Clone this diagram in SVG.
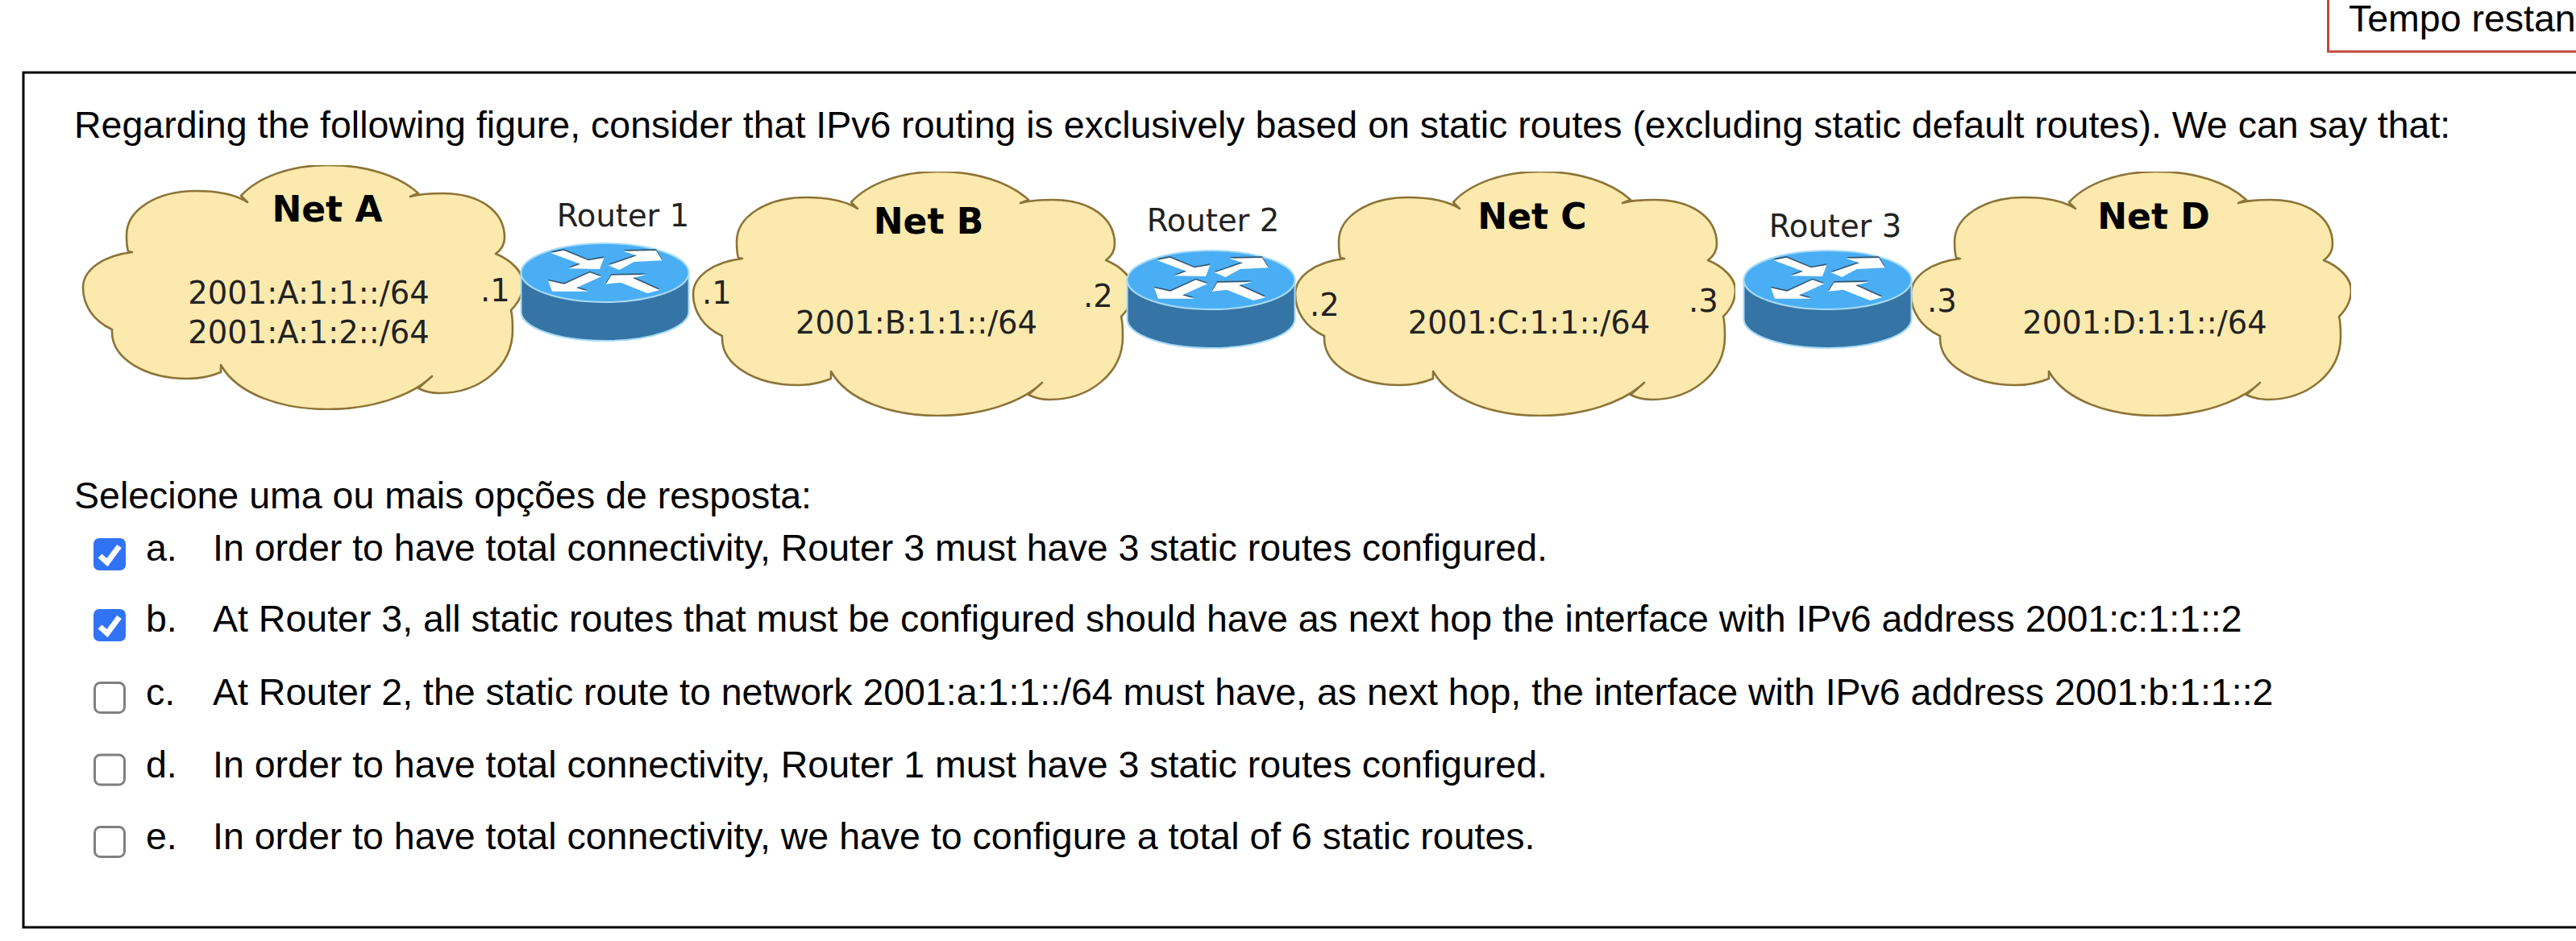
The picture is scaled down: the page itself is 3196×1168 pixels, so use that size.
<svg xmlns="http://www.w3.org/2000/svg" width="3196" height="1168" viewBox="0 0 3196 1168">
<style>
.t{font-family:"Liberation Sans",Arial,sans-serif;font-size:46.500px;fill:#000}
.d{font-family:"DejaVu Sans",sans-serif;font-size:38.500px;fill:#222}
.b{font-family:"DejaVu Sans",sans-serif;font-size:44px;font-weight:bold;fill:#000}
.m{text-anchor:middle}
.cloud{fill:#fbe9ae;stroke:#8c7336;stroke-width:2.6;stroke-linejoin:round}
.on{fill:#3273f6}
.off{fill:#fff;stroke:#808080;stroke-width:3}
.tick{fill:none;stroke:#fff;stroke-width:7}
</style>
<defs>
<clipPath id="cc"><rect x="90" y="205" width="559" height="304"/></clipPath>
<g id="cloud"><path class="cloud" clip-path="url(#cc)" d="M299,243C320,220 360,205 407,205C455,205 495,218 519,240L509,244C520,241 535,240 549,240C595,240 626,262 626,295C626,303 622,310 615,315C635,323 649,338 649,352C649,365 643,376 634,385C636,392 636,400 636,410C636,455 595,488 545,488C535,488 527,486 519,482L536,467C510,492 460,508 407,508C350,508 295,490 274,453L274,462C262,467 248,470 233,470C180,470 139,445 139,412L139,409C115,398 103,378 103,357C103,335 128,317 164,313L159,312C157,305 157,300 157,292C157,260 195,237 243,237C265,237 290,240 307,251Z"/></g>
<g id="router">
<path d="M646.500,338.500V387A104,36 0 0 0 854.500,387V338.500Z" fill="#3574a5" stroke="#a8dcf5" stroke-width="2"/>
<ellipse cx="750.500" cy="338.500" rx="104" ry="36.500" fill="#4aaef5" stroke="#a8dcf5" stroke-width="2"/>
<g transform="translate(620,280) scale(.3333)">
<g fill="#33536b" transform="translate(0,-5)">
<polygon points="190,102 238,92 330,130 388,120 372,162 255,160 300,143"/>
<polygon points="405,148 510,112 460,95 582,93 605,130 500,135 445,165"/>
<polygon points="180,205 240,218 335,175 378,190 285,232 330,245 195,245"/>
<polygon points="395,218 415,185 545,183 495,195 595,240 550,252 450,212"/>
</g>
<g fill="#fff">
<polygon points="190,102 238,92 330,130 388,120 372,162 255,160 300,143"/>
<polygon points="405,148 510,112 460,95 582,93 605,130 500,135 445,165"/>
<polygon points="180,205 240,218 335,175 378,190 285,232 330,245 195,245"/>
<polygon points="395,218 415,185 545,183 495,195 595,240 550,252 450,212"/>
</g>
</g>
</g>
</defs>
<rect width="3196" height="1168" fill="#fff"/>
<g id="timer"><rect x="2888.500" y="-10" width="330" height="74" fill="#fff" stroke="#c0493c" stroke-width="3"/><text class="t" x="2914" y="39">Tempo restan</text></g>
<rect id="panel" x="29" y="90" width="3190" height="1061" fill="#fff" stroke="#000" stroke-width="3"/>
<text class="t" x="92" y="171">Regarding the following figure, consider that IPv6 routing is exclusively based on static routes (excluding static default routes). We can say that:</text>
<g id="connectors"/>
<g id="net-a"><use href="#cloud"/><text class="b m" x="406" y="275">Net A</text><text class="d m" x="383" y="377">2001:A:1:1::/64</text><text class="d m" x="383" y="426">2001:A:1:2::/64</text><text class="d" x="596" y="374">.1</text></g>
<g id="net-b"><use href="#cloud" transform="translate(757,8)"/><text class="b m" x="1152" y="290">Net B</text><text class="d m" x="1137" y="414">2001:B:1:1::/64</text><text class="d" x="871" y="377">.1</text><text class="d" x="1344" y="381">.2</text></g>
<g id="net-c"><use href="#cloud" transform="translate(1504,8)"/><text class="b m" x="1901" y="284">Net C</text><text class="d m" x="1897" y="414">2001:C:1:1::/64</text><text class="d" x="1625" y="392">.2</text><text class="d" x="2095" y="387">.3</text></g>
<g id="net-d"><use href="#cloud" transform="translate(2268,8)"/><text class="b m" x="2672" y="284">Net D</text><text class="d m" x="2661" y="414">2001:D:1:1::/64</text><text class="d" x="2391" y="387">.3</text></g>
<g id="router-1"><use href="#router"/><text class="d m" x="773" y="281">Router 1</text></g>
<g id="router-2"><use href="#router" transform="translate(752,9)"/><text class="d m" x="1505" y="287">Router 2</text></g>
<g id="router-3"><use href="#router" transform="translate(1517,9)"/><text class="d m" x="2277" y="294">Router 3</text></g>
<text class="t" x="92" y="631">Selecione uma ou mais opções de resposta:</text>
<g id="opt-a"><rect class="on" x="116" y="668" width="40" height="40" rx="7"/><path class="tick" d="M124,690L133,698L148,678"/><text class="t" x="181" y="696">a.</text><text class="t" x="264" y="696">In order to have total connectivity, Router 3 must have 3 static routes configured.</text></g>
<g id="opt-b"><rect class="on" x="116" y="756" width="40" height="40" rx="7"/><path class="tick" d="M124,778L133,786L148,766"/><text class="t" x="181" y="784">b.</text><text class="t" x="264" y="784">At Router 3, all static routes that must be configured should have as next hop the interface with IPv6 address 2001:c:1:1::2</text></g>
<g id="opt-c"><rect class="off" x="117.500" y="847.500" width="37" height="37" rx="7"/><text class="t" x="181" y="875">c.</text><text class="t" x="264" y="875">At Router 2, the static route to network 2001:a:1:1::/64 must have, as next hop, the interface with IPv6 address 2001:b:1:1::2</text></g>
<g id="opt-d"><rect class="off" x="117.500" y="937" width="37" height="37" rx="7"/><text class="t" x="181" y="965">d.</text><text class="t" x="264" y="965">In order to have total connectivity, Router 1 must have 3 static routes configured.</text></g>
<g id="opt-e"><rect class="off" x="117.500" y="1026.500" width="37" height="37" rx="7"/><text class="t" x="181" y="1054">e.</text><text class="t" x="264" y="1054">In order to have total connectivity, we have to configure a total of 6 static routes.</text></g>
</svg>
